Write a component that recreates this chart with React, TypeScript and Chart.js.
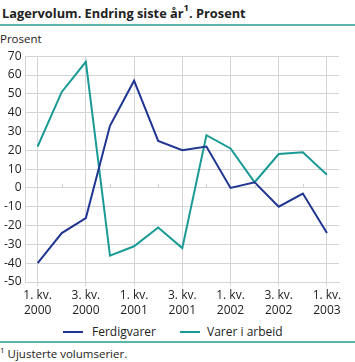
import React, { useEffect, useRef } from "react";
import { Chart, registerables } from "chart.js";

Chart.register(...registerables);

const categories = [
  ["1. kv.", "2000"], ["2. kv.", "2000"], ["3. kv.", "2000"], ["4. kv.", "2000"],
  ["1. kv.", "2001"], ["2. kv.", "2001"], ["3. kv.", "2001"], ["4. kv.", "2001"],
  ["1. kv.", "2002"], ["2. kv.", "2002"], ["3. kv.", "2002"], ["4. kv.", "2002"],
  ["1. kv.", "2003"],
];
const ferdigvarer = [-40, -24, -16, 33, 57, 25, 20, 22, 0, 3, -10, -3, -24];
const varerIArbeid = [22, 51, 67, -36, -31, -21, -32, 28, 21, 3, 18, 19, 7];
const seriesNames = ["Ferdigvarer", "Varer i arbeid"];
const seriesColors = ["#1f3591", "#1a9a96"];

const FONT = "'Open Sans', 'DejaVu Sans', sans-serif";

const zeroTicks = {
  id: "zeroTicks",
  afterDatasetsDraw(chart: any) {
    const x = chart.scales.x;
    const y = chart.scales.y;
    const ctx = chart.ctx;
    const y0 = y.getPixelForValue(0);
    ctx.save();
    ctx.strokeStyle = "#cfcfcf";
    ctx.lineWidth = 1;
    categories.forEach((_, i) => {
      if (i % 2 === 1) {
        const px = Math.round(x.getPixelForValue(i)) + 0.5;
        ctx.beginPath();
        ctx.moveTo(px, y0);
        ctx.lineTo(px, y0 - 4);
        ctx.stroke();
      }
    });
    ctx.restore();
  },
};

export default function App() {
  const ref = useRef<HTMLCanvasElement>(null);
  useEffect(() => {
    document.body.style.margin = "0";
    const chart = new Chart(ref.current!, {
      type: "line",
      data: {
        labels: categories as any,
        datasets: [
          {
            label: seriesNames[0],
            data: ferdigvarer,
            borderColor: seriesColors[0],
            backgroundColor: seriesColors[0],
            borderWidth: 2,
            pointRadius: 0,
            tension: 0,
          },
          {
            label: seriesNames[1],
            data: varerIArbeid,
            borderColor: seriesColors[1],
            backgroundColor: seriesColors[1],
            borderWidth: 2,
            pointRadius: 0,
            tension: 0,
          },
        ],
      },
      options: {
        animation: false,
        responsive: false,
        layout: { padding: { left: 0, right: 16, top: 0, bottom: 0 } },
        plugins: {
          legend: { display: false },
          tooltip: { enabled: false },
        },
        scales: {
          x: {
            offset: true,
            grid: { offset: false, color: "#d4d4d4", tickLength: 4, drawTicks: true },
            border: { display: true, color: "#d4d4d4" },
            ticks: {
              autoSkip: false,
              maxRotation: 0,
              color: "#222",
              padding: 2,
              font: { family: FONT, size: 12, lineHeight: 1.25 },
              callback: (_v: any, i: number) => (i % 2 === 0 ? categories[i] : null),
            },
          },
          y: {
            min: -50,
            max: 70,
            grid: { color: "#d4d4d4", drawTicks: false },
            border: { display: true, color: "#d4d4d4" },
            ticks: {
              stepSize: 10,
              color: "#222",
              padding: 4,
              font: { family: FONT, size: 12 },
            },
          },
        },
      },
      plugins: [zeroTicks],
    });
    return () => chart.destroy();
  }, []);

  const legendPos = [
    { line: 63, text: 92 },
    { line: 180, text: 207 },
  ];

  return (
    <div style={{ position: "absolute", left: 0, top: 0, width: 355, height: 362, fontFamily: FONT, color: "#222", background: "#fff" }}>
      <div style={{ position: "absolute", left: 2, top: 4, fontSize: 12.8, fontWeight: "bold", whiteSpace: "nowrap" }}>
        Lagervolum. Endring siste år<sup style={{ fontSize: 9.5, verticalAlign: "top", position: "relative", top: -3 }}>1</sup>. Prosent
      </div>
      <div style={{ position: "absolute", left: 0, top: 24, width: 355, height: 2, background: "#5bb4ad" }} />
      <div style={{ position: "absolute", left: 0, top: 31, fontSize: 11.5 }}>Prosent</div>
      <canvas ref={ref} width={355} height={275} style={{ position: "absolute", left: 0, top: 45, width: 355, height: 275 }} />
      {seriesNames.map((name, i) => (
        <React.Fragment key={name}>
          <div style={{ position: "absolute", left: legendPos[i].line, top: 331, width: 20, height: 2, background: seriesColors[i] }} />
          <div style={{ position: "absolute", left: legendPos[i].text, top: 323, fontSize: 12, whiteSpace: "nowrap" }}>{name}</div>
        </React.Fragment>
      ))}
      <div style={{ position: "absolute", left: 0, top: 341, width: 355, height: 2, background: "#5bb4ad" }} />
      <div style={{ position: "absolute", left: 0, top: 344, fontSize: 11.5, whiteSpace: "nowrap" }}>
        <sup style={{ fontSize: 8 }}>1</sup> Ujusterte volumserier.
      </div>
    </div>
  );
}
